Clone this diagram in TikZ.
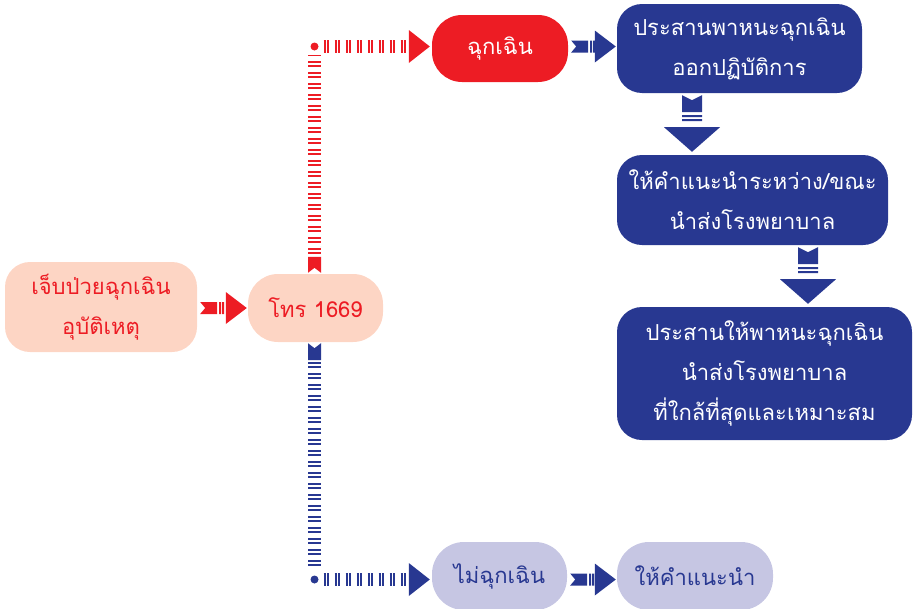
\documentclass[tikz,border=0pt]{standalone}
\usepackage{fontspec}
\newfontfamily\thai[Script=Thai]{Loma}
\usetikzlibrary{calc}
\definecolor{cred}{HTML}{ED1C24}
\definecolor{cpeach}{HTML}{FDD5C4}
\definecolor{cblue}{HTML}{283891}
\definecolor{clav}{HTML}{C6C6E3}
\tikzset{
  box/.style={inner sep=0pt, align=center, font=\thai\fontsize{22}{40}\selectfont},
  stripes/.style={line width=13pt, dash pattern=on 2pt off 1.6pt on 2pt off 5.4pt},
}
% horizontal connector: from, to, colour, vertical offset (canvas)
\newcommand{\hconn}[4]{%
  \fill[#3] let \p1=(#1.east), \p2=(#2.west) in
  (\x1+3pt,\y1#4+6pt) -- (\x1+20pt,\y1#4+6pt) -- (\x1+20pt,\y1#4-6pt) -- (\x1+3pt,\y1#4-6pt) -- (\x1+8pt,\y1#4) -- cycle
  (\x1+22pt,\y1#4+6pt) rectangle (\x1+24pt,\y1#4-6pt)
  (\x1+25pt,\y1#4+6pt) rectangle (\x1+27pt,\y1#4-6pt)
  (\x2-22pt,\y1#4+16pt) -- (\x2-1pt,\y1#4) -- (\x2-22pt,\y1#4-16pt) -- cycle;}
% vertical connector: from, to, colour, horizontal offset
\newcommand{\vconn}[4]{%
  \fill[#3] let \p1=(#1.south), \p2=(#2.north) in
  (\x1#4-10pt,\y1-2pt) -- (\x1#4,\y1-7pt) -- (\x1#4+10pt,\y1-2pt) -- (\x1#4+10pt,\y1-19pt) -- (\x1#4-10pt,\y1-19pt) -- cycle
  (\x1#4-10pt,\y1-22pt) rectangle (\x1#4+10pt,\y1-24pt)
  (\x1#4-10pt,\y1-26pt) rectangle (\x1#4+10pt,\y1-28pt)
  (\x1#4-28pt,\y1-34pt) -- (\x1#4+28pt,\y1-34pt) -- (\x1#4,\y2+3pt) -- cycle;}
% corner connector upwards
\newcommand{\upconn}[4]{%
  \fill[#3] let \p1=(#1.north), \p2=(#2.west) in
  (\x1-7.5pt,\y1+1pt) -- (\x1-1pt,\y1+6pt) -- (\x1+5.5pt,\y1+1pt) -- (\x1+5.5pt,\y1+17pt) -- (\x1-7.5pt,\y1+17pt) -- cycle
  (\x1-1pt,\y2#4) circle[radius=4pt]
  (\x2-23pt,\y2#4+16.5pt) -- (\x2-2pt,\y2#4) -- (\x2-23pt,\y2#4-16.5pt) -- cycle;
  \draw[#3, stripes] let \p1=(#1.north), \p2=(#2.west) in
  (\x1-1pt,\y1+20pt) -- (\x1-1pt,\y2#4-8.5pt)
  (\x1+8pt,\y2#4) -- (\x2-25pt,\y2#4);}
% corner connector downwards
\newcommand{\downconn}[4]{%
  \fill[#3] let \p1=(#1.south), \p2=(#2.west) in
  (\x1-7.5pt,\y1-1pt) -- (\x1-1pt,\y1-6pt) -- (\x1+5.5pt,\y1-1pt) -- (\x1+5.5pt,\y1-18pt) -- (\x1-7.5pt,\y1-18pt) -- cycle
  (\x1-1pt,\y2#4) circle[radius=4pt]
  (\x2-23pt,\y2#4+16.5pt) -- (\x2-2pt,\y2#4) -- (\x2-23pt,\y2#4-16.5pt) -- cycle;
  \draw[#3, stripes] let \p1=(#1.south), \p2=(#2.west) in
  (\x1-1pt,\y1-20pt) -- (\x1-1pt,\y2#4+8.5pt)
  (\x1+8pt,\y2#4) -- (\x2-25pt,\y2#4);}
\begin{document}
\begin{tikzpicture}[x=1pt,y=-1pt]
\useasboundingbox (0,0) rectangle (913,608);
\node[box, fill=cpeach, text=cred, rounded corners=25pt, minimum width=192pt, minimum height=90pt] (inj) at (101,307) {เจ็บป่วยฉุกเฉิน\\อุบัติเหตุ};
\node[box, fill=cpeach, text=cred, rounded corners=30pt, minimum width=135pt, minimum height=68pt] (call) at (315.5,308) {โทร 1669};
\node[box, fill=cred, text=white, rounded corners=30pt, minimum width=136pt, minimum height=67pt] (emg) at (500,48.5) {ฉุกเฉิน};
\node[box, fill=cblue, text=white, rounded corners=25pt, minimum width=245pt, minimum height=89pt] (coord) at (739.5,48.5) {ประสานพาหนะฉุกเฉิน\\ออกปฏิบัติการ};
\node[box, fill=cblue, text=white, rounded corners=25pt, minimum width=271pt, minimum height=90pt] (advise) at (752.5,200) {ให้คำแนะนำระหว่าง/ขณะ\\นำส่งโรงพยาบาล};
\node[box, fill=cblue, text=white, rounded corners=25pt, minimum width=295pt, minimum height=133pt] (send) at (764.5,373.5) {ประสานให้พาหนะฉุกเฉิน\\นำส่งโรงพยาบาล\\ที่ใกล้ที่สุดและเหมาะสม};
\node[box, fill=clav, text=cblue, rounded corners=32pt, minimum width=135pt, minimum height=68pt] (nonemg) at (499.5,576) {ไม่ฉุกเฉิน};
\node[box, fill=clav, text=cblue, rounded corners=32pt, minimum width=156pt, minimum height=68pt] (tips) at (695,576) {ให้คำแนะนำ};
\hconn{inj}{call}{cred}{-1pt}
\hconn{emg}{coord}{cblue}{+2pt}
\hconn{nonemg}{tips}{cblue}{-3.5pt}
\vconn{coord}{advise}{cblue}{-47.5pt}
\vconn{advise}{send}{cblue}{+55.5pt}
\upconn{call}{emg}{cred}{+2pt}
\downconn{call}{nonemg}{cblue}{-3.5pt}
\end{tikzpicture}
\end{document}
